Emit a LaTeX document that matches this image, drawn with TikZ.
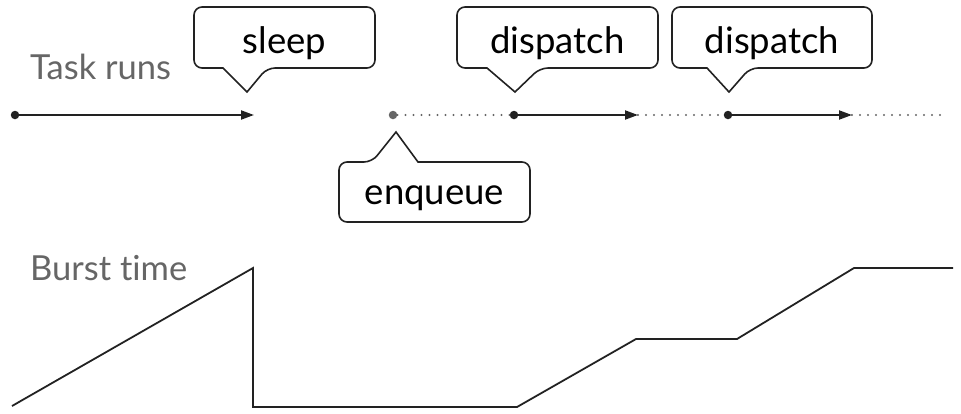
\documentclass[tikz,border=0pt]{standalone}
\usepackage{fontspec}
\setmainfont{Lato}[Ligatures={NoCommon}]
\usetikzlibrary{arrows.meta}
\definecolor{labelgray}{HTML}{666666}
\definecolor{ink}{HTML}{222222}
\tikzset{
  lbl/.style={text=labelgray, font=\fontsize{34.5}{40}\selectfont, anchor=base west, inner sep=0pt},
  ctext/.style={text=black, font=\fontsize{36.5}{42}\selectfont, anchor=base, inner sep=0pt},
  cbox/.style={draw=ink, line width=1.6pt, fill=white},
  dotnode/.style={circle, fill=ink, inner sep=0pt, minimum size=8.5pt},
  gdotnode/.style={circle, fill=labelgray, inner sep=0pt, minimum size=8.5pt},
  runline/.style={draw=ink, line width=2pt, -{Triangle[length=13pt,width=9pt]}},
  waitline/.style={draw=labelgray, line width=2.2pt, line cap=round, dash pattern=on 0pt off 8pt},
  burst/.style={draw=ink, line width=1.8pt},
}
\newcommand{\calloutdown}[8]{% x1 y1 x2 y2 tailleft tipx tipy tailright
  \draw[cbox, rounded corners=8pt] (#1,#2) -- (#3,#2) -- (#3,#4) -- (#8,#4) [sharp corners] -- (#6,#7) -- (#5,#4) [rounded corners=8pt] -- (#1,#4) -- cycle;}
\newcommand{\calloutup}[8]{% x1 y1 x2 y2 tailleft tipx tipy tailright ; tail on top edge y1
  \draw[cbox, rounded corners=8pt] (#1,#4) -- (#1,#2) -- (#5,#2) [sharp corners] -- (#6,#7) -- (#8,#2) [rounded corners=8pt] -- (#3,#2) -- (#3,#4) -- cycle;}
\begin{document}
\begin{tikzpicture}[x=1pt,y=-1pt]
\useasboundingbox (0,0) rectangle (961,413);
% labels
\node[lbl] (tasklbl) at (30,79) {Task runs};
\node[lbl] (burstlbl) at (30,280) {Burst time};
% callouts
\calloutdown{194}{7}{375}{68}{223}{247}{92}{267}
\node[ctext] (sleep) at (284.5,53) {sleep};
\calloutdown{457}{7}{658}{68}{487}{515}{92}{540}
\node[ctext] (disp1) at (557.5,53) {dispatch};
\calloutdown{672}{7}{872}{68}{707}{729}{92}{750}
\node[ctext] (disp2) at (772,53) {dispatch};
\calloutup{339}{162}{530}{222}{372}{396}{132}{418}
\node[ctext] (enq) at (434.5,204) {enqueue};
% timeline
\node[dotnode] (d0) at (15,115) {};
\coordinate (e0) at (254,115);
\node[gdotnode] (g1) at (393,115) {};
\node[dotnode] (d1) at (514,115) {};
\coordinate (e1) at (638,115);
\node[dotnode] (d2) at (728,115) {};
\coordinate (e2) at (852,115);
\coordinate (end) at (944,115);
\draw[waitline] (g1) -- (d1);
\draw[waitline] (e1) -- (d2);
\draw[waitline] (e2) -- (end);
\draw[runline] (d0) -- (e0);
\draw[runline] (d1) -- (e1);
\draw[runline] (d2) -- (e2);
% burst time graph
\coordinate (b0) at (12,406);
\coordinate (b1) at (253,268);
\coordinate (b2) at (253,407);
\coordinate (b3) at (517,407);
\coordinate (b4) at (636,339);
\coordinate (b5) at (737,339);
\coordinate (b6) at (854,268);
\coordinate (b7) at (953,268);
\draw[burst] (b0) -- (b1) -- (b2) -- (b3) -- (b4) -- (b5) -- (b6) -- (b7);
\end{tikzpicture}
\end{document}
